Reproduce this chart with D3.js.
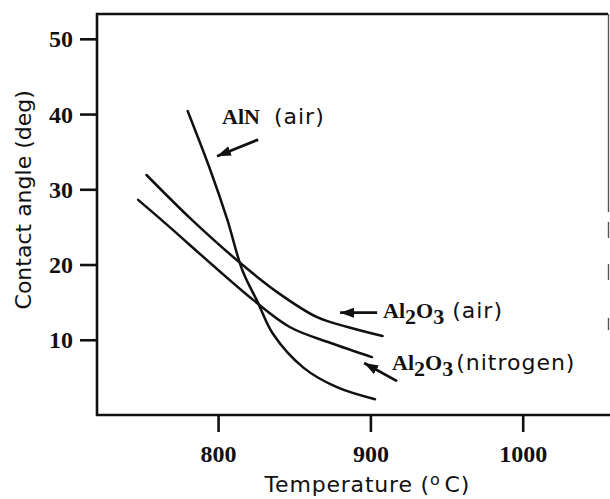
<!DOCTYPE html>
<html>
<head>
<meta charset="utf-8">
<script src="https://cdn.jsdelivr.net/npm/d3@7"></script>
<style>
  html, body { margin: 0; padding: 0; background: #fff; }
  svg { display: block; }
  .tick text { font-family: "Liberation Serif", "Times New Roman", serif; font-weight: bold; font-size: 24px; fill: #111; }
  .title { font-family: "DejaVu Sans", sans-serif; font-size: 22px; fill: #111; }
  .lab-bold { font-family: "Liberation Serif", serif; font-weight: bold; font-size: 22px; fill: #111; }
  .lab-sans { font-family: "DejaVu Sans", sans-serif; font-size: 22px; letter-spacing: 1px; fill: #111; }
</style>
</head>
<body>
<svg id="chart" width="610" height="499"></svg>
<script>
// Contact angle vs temperature
const xTickValues = [800, 900, 1000];
const yTickValues = [10, 20, 30, 40, 50];

const alnAirTemp = [780, 795, 806, 816, 826, 836, 856, 878, 903];
const alnAirAngle = [40.4, 32.5, 26.0, 19.2, 15.0, 10.8, 6.3, 3.7, 2.1];

const aluminaAirTemp = [753, 783, 814, 839, 865, 885, 908];
const aluminaAirAngle = [31.9, 25.9, 20.3, 16.3, 13.0, 11.7, 10.5];

const aluminaN2Temp = [747.5, 763, 823, 847, 873.5, 901];
const aluminaN2Angle = [28.6, 25.9, 15.3, 11.7, 9.6, 7.7];

// annotation arrows: [tailTemp, tailAngle, tipTemp, tipAngle]
const arrows = [
  [826.3, 36.6, 799.3, 34.4],
  [904.4, 13.6, 880.1, 13.6],
  [917.5, 4.5, 895.9, 6.9],
];

const svg = d3.select("#chart");
const margin = { top: 14, right: 2, bottom: 84, left: 97 };
const width = 610;
const height = 499;

const x = d3.scaleLinear().domain([720.5, 1056]).range([margin.left, width - margin.right]);
const y = d3.scaleLinear().domain([0, 53.3]).range([height - margin.bottom, margin.top]);

const toPoints = (temps, angles) => temps.map((t, i) => ({ t, a: angles[i] }));
const series = [
  toPoints(alnAirTemp, alnAirAngle),
  toPoints(aluminaAirTemp, aluminaAirAngle),
  toPoints(aluminaN2Temp, aluminaN2Angle),
];

// axes
const yAxis = d3.axisLeft(y).tickValues(yTickValues).tickSize(17).tickPadding(7);
const xAxis = d3.axisBottom(x).tickValues(xTickValues).tickFormat(d3.format("d")).tickSize(17).tickPadding(13);

const gy = svg.append("g").attr("transform", `translate(${margin.left},0)`).call(yAxis);
const gx = svg.append("g").attr("transform", `translate(0,${height - margin.bottom})`).call(xAxis);

[gx, gy].forEach((g) => {
  g.select(".domain").remove();
  g.selectAll(".tick line").attr("stroke", "#111").attr("stroke-width", 2.6);
  g.selectAll(".tick text").attr("fill", "#111");
});
gy.selectAll(".tick text").attr("dy", "0.34em");

// frame
const frame = svg.append("g").attr("stroke", "#111").attr("stroke-width", 2.6).attr("fill", "none");
frame.append("path").attr("d", `M${x(1056)},${margin.top}H${margin.left}V${height - margin.bottom}H${width}`);
svg.append("line")
  .attr("x1", 608.5).attr("x2", 608.5)
  .attr("y1", margin.top).attr("y2", height - margin.bottom)
  .attr("stroke", "#555").attr("stroke-width", 1.4)
  .attr("stroke-dasharray", "198 10 16 26 16 38 12 400");

// curves
const line = d3.line()
  .curve(d3.curveCatmullRom.alpha(0.5))
  .x((d) => x(d.t))
  .y((d) => y(d.a));

svg.append("g")
  .selectAll("path")
  .data(series)
  .join("path")
  .attr("d", line)
  .attr("fill", "none")
  .attr("stroke", "#111")
  .attr("stroke-width", 2.5)
  .attr("stroke-linecap", "round");

// arrows
svg.append("defs").append("marker")
  .attr("id", "head")
  .attr("markerUnits", "userSpaceOnUse")
  .attr("markerWidth", 16).attr("markerHeight", 12)
  .attr("refX", 14).attr("refY", 5)
  .attr("orient", "auto")
  .append("path")
  .attr("d", "M0,0L14,5L0,10Z")
  .attr("fill", "#111");

svg.append("g")
  .selectAll("line")
  .data(arrows)
  .join("line")
  .attr("x1", (d) => x(d[0])).attr("y1", (d) => y(d[1]))
  .attr("x2", (d) => x(d[2])).attr("y2", (d) => y(d[3]))
  .attr("stroke", "#111").attr("stroke-width", 2.8)
  .attr("marker-end", "url(#head)");

// curve labels
const aln = svg.append("text").attr("x", x(802.6)).attr("y", y(38.7));
aln.append("tspan").attr("class", "lab-bold").text("AlN");
aln.append("tspan").attr("class", "lab-sans").attr("dx", 14).text("(air)");

function aluminaLabel(t, a, note, gap) {
  const txt = svg.append("text").attr("x", x(t)).attr("y", y(a));
  txt.append("tspan").attr("class", "lab-bold").text("Al");
  txt.append("tspan").attr("class", "lab-bold").attr("font-size", 18).attr("dy", 6).text("2");
  txt.append("tspan").attr("class", "lab-bold").attr("dy", -6).text("O");
  txt.append("tspan").attr("class", "lab-bold").attr("font-size", 18).attr("dy", 6).text("3");
  txt.append("tspan").attr("class", "lab-sans").attr("dy", -6).attr("dx", gap).text(note);
}
aluminaLabel(908.3, 12.9, "(air)", 8);
aluminaLabel(914.2, 6.0, "(nitrogen)", 3);

// axis titles
const xt = svg.append("text")
  .attr("class", "title")
  .attr("x", x(898)).attr("y", 492)
  .attr("text-anchor", "middle")
  .attr("letter-spacing", "0.8px");
xt.append("tspan").text("Temperature (");
xt.append("tspan").attr("font-size", 16).attr("dy", -7).text("o");
xt.append("tspan").attr("dy", 7).attr("dx", 4).text("C)");

svg.append("text")
  .attr("class", "title")
  .attr("transform", `translate(31,${y(28.6)}) rotate(-90)`)
  .attr("text-anchor", "middle")
  .text("Contact angle (deg)");
</script>
</body>
</html>
